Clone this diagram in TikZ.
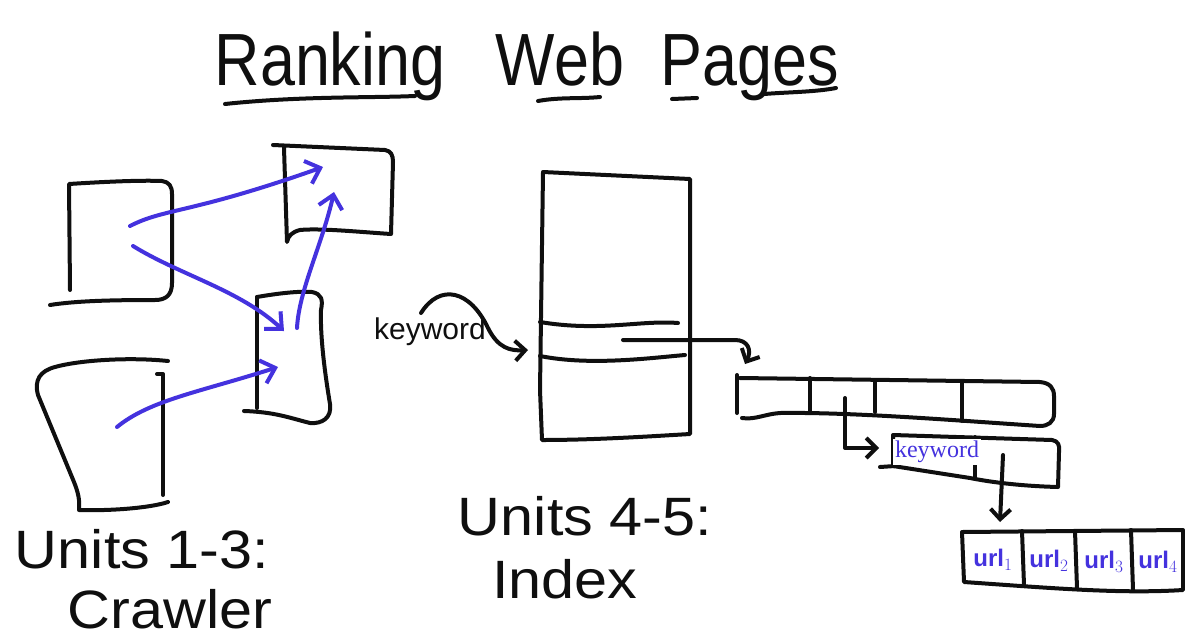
\documentclass[tikz,border=0pt]{standalone}
\usepackage{fontspec}
\setmainfont{Liberation Sans}
\newfontfamily\labelserif{Liberation Serif}
\usetikzlibrary{arrows.meta}
\definecolor{pen}{RGB}{15,15,15}
\definecolor{ink}{RGB}{68,50,222}
\begin{document}
\begin{tikzpicture}[x=1pt,y=-1pt,line cap=round,line join=round,
  outline/.style={draw=pen,line width=4pt},
  link/.style={draw=ink,line width=4pt,-{Straight Barb[length=13pt,width=24pt]}},
  ptr/.style={draw=pen,line width=4pt,-{Straight Barb[length=10pt,width=20pt]}},
  titletext/.style={font=\fontsize{74}{80}\selectfont,text=pen,inner sep=0pt,anchor=base,xscale=0.85},
  captext/.style={font=\fontsize{54}{60}\selectfont,text=pen,inner sep=0pt,anchor=base,xscale=1.1},
  urltext/.style={font=\bfseries\fontsize{24}{28}\selectfont,text=ink,inner sep=0pt},
]
\useasboundingbox (0,0) rectangle (1185,640);

% ---------- title ----------
\node[titletext] (t1) at (330,85) {Ranking};
\node[titletext] (t2) at (560,85) {Web};
\node[titletext] (t3) at (750,85) {Pages};
\draw[outline] (225,104) .. controls (300,96) and (370,98) .. (415,96);
\draw[outline] (538,101) .. controls (560,97) and (580,99) .. (600,97);
\draw[outline] (672,99) -- (697,98);
\draw[outline] (764,94) .. controls (790,92) and (815,92) .. (836,88);

% ---------- crawler: pages ----------
% page A
\draw[outline] (70,290) -- (69,184) .. controls (100,182) and (140,180) .. (162,181)
  .. controls (169,182) and (172,186) .. (172,194) -- (172,283)
  .. controls (172,295) and (166,300) .. (155,300) .. controls (110,300) and (75,301) .. (50,305);
% page B
\draw[outline] (273,145) -- (385,150) .. controls (391,151) and (393,155) .. (393,162)
  -- (391,234) .. controls (360,232) and (320,228) .. (300,230) .. controls (292,232) and (288,236) .. (287,242)
  -- (284,148);
% page C
\draw[outline] (257,297) .. controls (280,293) and (300,291) .. (312,292)
  .. controls (322,294) and (323,300) .. (321,310) .. controls (320,340) and (326,380) .. (330,404)
  .. controls (332,418) and (322,424) .. (310,423) .. controls (290,418) and (275,412) .. (244,411);
\draw[outline] (257,297) -- (257,408);
% page D
\draw[outline] (168,361) .. controls (130,357) and (80,360) .. (55,367)
  .. controls (40,371) and (34,380) .. (38,395) -- (74,482) .. controls (78,492) and (80,500) .. (79,510)
  .. controls (110,511) and (150,508) .. (168,502);
\draw[outline] (157,374) -- (163,374) -- (163,495);

\coordinate (a1) at (130,226);
\coordinate (a2) at (133,246);
\coordinate (d1) at (117,427);
\coordinate (c1) at (297,328);
\coordinate (b1) at (323,167);
\coordinate (b2) at (334,192);
\coordinate (c2) at (284,331);
\coordinate (c3) at (278,367);

\draw[link] (a1) .. controls (165,208) and (190,214) .. (b1);
\draw[link] (a2) .. controls (180,275) and (240,290) .. (c2);
\draw[link] (d1) .. controls (150,400) and (200,392) .. (c3);
\draw[link] (c1) .. controls (299,290) and (322,245) .. (b2);

% ---------- index ----------
\draw[outline] (543,172) -- (690,179) -- (690,434) .. controls (640,437) and (590,440) .. (542,440)
  -- (540,390) -- (543,172);
\draw[outline] (540,322) .. controls (600,332) and (640,320) .. (678,323);
\draw[outline] (540,356) .. controls (590,366) and (650,358) .. (685,355);

\node[font=\fontsize{30}{34}\selectfont,text=pen,inner sep=0pt] (kw) at (430,332) {keyword};
\coordinate (kwstart) at (421,313);
\coordinate (kwin) at (528,350);
\draw[ptr] (kwstart) .. controls (440,283) and (470,290) .. (488,328)
  .. controls (498,348) and (510,351) .. (kwin);

\coordinate (ixrow) at (623,340);
\coordinate (arr1in) at (745,364);
\draw[ptr] (ixrow) -- (735,340) .. controls (748,340) and (752,350) .. (arr1in);

% first list
\draw[outline] (737,375) -- (737,413);
\draw[outline] (740,378) -- (1040,382) .. controls (1050,383) and (1054,388) .. (1054,396)
  -- (1054,414) .. controls (1054,422) and (1048,426) .. (1040,426)
  .. controls (950,420) and (850,412) .. (780,413) .. controls (765,414) and (755,420) .. (742,418);
\draw[outline] (810,378) -- (810,413);
\draw[outline] (875,380) -- (875,412);
\draw[outline] (962,381) -- (962,421);

\coordinate (l1cell) at (845,398);
\coordinate (l2in) at (879,448);
\draw[ptr] (l1cell) -- (845,448) -- (l2in);

% second list
\draw[outline] (893,435) -- (1052,440) .. controls (1058,441) and (1060,445) .. (1059,452)
  -- (1058,487) .. controls (1020,486) and (990,482) .. (970,478) -- (893,466) -- (893,435);
\draw[outline] (880,467) -- (895,466);
\draw[outline] (975,437) -- (975,478);
\node[fill=white,text=ink,font=\labelserif\fontsize{24}{26}\selectfont,inner sep=2pt] (kwlabel) at (937,452) {keyword};

\coordinate (l2cell) at (1003,455);
\coordinate (urlin) at (1000,522);
\draw[ptr] (l2cell) -- (urlin);

% url list
\draw[outline] (962,532) -- (1183,530) -- (1183,590)
  .. controls (1120,594) and (1050,588) .. (964,582) -- (962,532);
\draw[outline] (1022,531) -- (1024,585);
\draw[outline] (1075,531) -- (1077,588);
\draw[outline] (1131,530) -- (1133,590);
\node[urltext] (u1) at (993,560) {url$_1$};
\node[urltext] (u2) at (1049,561) {url$_2$};
\node[urltext] (u3) at (1104,562) {url$_3$};
\node[urltext] (u4) at (1158,562) {url$_4$};

% ---------- captions ----------
\node[captext] (cap1) at (142,568) {Units 1-3:};
\node[captext] (cap2) at (170,628) {Crawler};
\node[captext] (cap3) at (585,535) {Units 4-5:};
\node[captext] (cap4) at (565,598) {Index};
\end{tikzpicture}
\end{document}
